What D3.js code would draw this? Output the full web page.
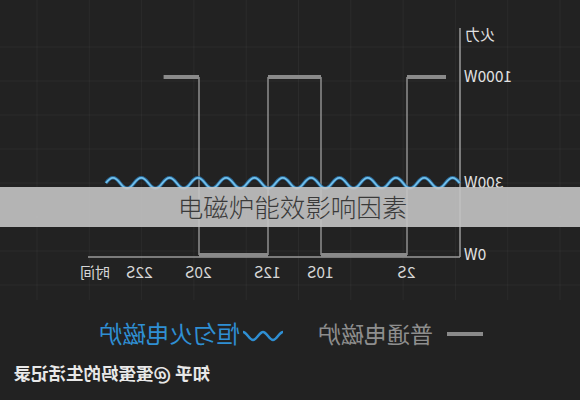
<!DOCTYPE html>
<html>
<head>
<meta charset="utf-8">
<script src="https://cdn.jsdelivr.net/npm/d3@7"></script>
<style>
  html, body { margin: 0; padding: 0; background: #222; }
  svg { display: block; font-family: "Noto Sans CJK SC", "Noto Sans", sans-serif; }
</style>
</head>
<body>
<svg id="chart" width="580" height="400"></svg>
<script>
// time ticks (seconds) and their labels
const timeTicks = [2, 10, 12, 20, 22];
const timeLabels = ['2S', '10S', '12S', '20S', '22S'];

// power ticks
const powerTicks = [0, 300, 1000];
const powerLabels = ['0W', '300W', '1000W'];

// normal induction cooker: on/off steps (segment i runs from times[i] to times[i+1])
const normalTimes = [0, 2, 10, 12, 20, 21.2];
const normalPower = [1000, 0, 1000, 0, 1000];

// constant-fire induction cooker: steady 300W
const steadyTimes = [-0.7, 23.2];
const steadyPower = [300, 300];

const seriesNames = ['普通电磁炉', '恒匀火电磁炉'];
const caption = '电磁炉能效影响因素';
const watermark = '知乎 @蛋蛋妈的生活记录';

const W = 580, H = 400;
const svg = d3.select('#chart');

svg.append('rect').attr('width', W).attr('height', H).attr('fill', '#222');

// the whole picture is mirrored left-right
const g = svg.append('g').attr('transform', `translate(${W},0) scale(-1,1)`);

// time axis is not evenly spaced in the picture
const x = d3.scaleLinear()
    .domain([0, 2, 10, 12, 20, 22])
    .range([134, 173, 259, 312, 381, 440]);

const y = d3.scaleLinear()
    .domain([0, 300, 1000])
    .range([255, 183, 77]);

const axisX0 = 120, axisY0 = 257;

// faint background grid
g.append('g').selectAll('line')
    .data(d3.range(20, W, 52.3))
    .join('line')
    .attr('x1', d => d).attr('x2', d => d)
    .attr('y1', 0).attr('y2', 300)
    .attr('stroke', 'rgba(255,255,255,0.045)');
g.append('g').selectAll('line')
    .data(d3.range(47, 300, 34))
    .join('line')
    .attr('x1', 0).attr('x2', W)
    .attr('y1', d => d).attr('y2', d => d)
    .attr('stroke', 'rgba(255,255,255,0.045)');

// axis lines
g.append('line')
    .attr('x1', axisX0).attr('x2', axisX0)
    .attr('y1', 28).attr('y2', axisY0)
    .attr('stroke', '#9a9a9a').attr('stroke-width', 1.5);
g.append('line')
    .attr('x1', axisX0).attr('x2', 492)
    .attr('y1', axisY0).attr('y2', axisY0)
    .attr('stroke', '#9a9a9a').attr('stroke-width', 1.5);

// tick labels
const xAxis = g.append('g')
    .attr('transform', `translate(0,${axisY0})`)
    .call(d3.axisBottom(x).tickValues(timeTicks).tickFormat((d, i) => timeLabels[i]).tickSize(0).tickPadding(10));
xAxis.select('.domain').remove();
xAxis.selectAll('text')
    .attr('fill', '#d6d6d6')
    .style('font-size', '15.5px')
    .style('font-family', '"Noto Sans CJK SC", sans-serif');

const yAxis = g.append('g')
    .attr('transform', `translate(${axisX0},0)`)
    .call(d3.axisLeft(y).tickValues(powerTicks).tickFormat((d, i) => powerLabels[i]).tickSize(0).tickPadding(4));
yAxis.select('.domain').remove();
yAxis.selectAll('text')
    .attr('fill', '#e2e2e2')
    .style('font-size', '15.5px')
    .style('font-family', '"Noto Sans CJK SC", sans-serif');

g.append('text')
    .attr('x', 115).attr('y', 35).attr('dy', '0.35em')
    .attr('text-anchor', 'end')
    .attr('fill', '#e2e2e2').style('font-size', '15px')
    .text('火力');
g.append('text')
    .attr('x', 485).attr('y', 273).attr('dy', '0.35em')
    .attr('text-anchor', 'middle')
    .attr('fill', '#d6d6d6').style('font-size', '15px')
    .text('时间');

// normal cooker: thick horizontal runs + thin vertical switches
const segments = normalPower.map((p, i) => ({ t0: normalTimes[i], t1: normalTimes[i + 1], p }));
g.append('g').selectAll('line')
    .data(segments.slice(1))
    .join('line')
    .attr('x1', d => x(d.t0)).attr('x2', d => x(d.t0))
    .attr('y1', y(1000)).attr('y2', y(0))
    .attr('stroke', '#a0a0a0').attr('stroke-width', 1.3);
g.append('g').selectAll('line')
    .data(segments)
    .join('line')
    .attr('x1', d => x(d.t0)).attr('x2', d => x(d.t1))
    .attr('y1', d => y(d.p)).attr('y2', d => y(d.p))
    .attr('stroke', '#8a8a8a').attr('stroke-width', 4);

// wavy stroke along a horizontal run (line style only)
function wavyPath(x0, x1, yc, period, amp, fromCrest) {
    const h = period / 2;
    const n = Math.round((x1 - x0) / h);
    let d;
    if (fromCrest) {
        d = `M${x0},${yc - amp}`;
        for (let i = 0; i < n; i++) {
            const s = i % 2 === 0 ? 1 : -1;
            d += `c${h * 0.36},0 ${h * 0.64},${2 * amp * s} ${h},${2 * amp * s}`;
        }
    } else {
        d = `M${x0},${yc}`;
        const k = amp * 4 / 3;
        for (let i = 0; i < n; i++) {
            const s = i % 2 === 0 ? -1 : 1;
            d += `c${h * 0.3642},${k * s} ${h * 0.6358},${k * s} ${h},0`;
        }
    }
    return d;
}

const steadyD = wavyPath(x(steadyTimes[0]), x(steadyTimes[1]), y(steadyPower[0]), 28.3, 5.2, false);
g.append('path').attr('d', steadyD)
    .attr('fill', 'none').attr('stroke', '#2c76ad').attr('stroke-width', 3.6).attr('opacity', 0.85);
g.append('path').attr('d', steadyD)
    .attr('fill', 'none').attr('stroke', '#72c1ec').attr('stroke-width', 1.8);

// legend
const legend = g.append('g');
legend.append('line')
    .attr('x1', 97).attr('x2', 133).attr('y1', 334).attr('y2', 334)
    .attr('stroke', '#8a8a8a').attr('stroke-width', 4);
legend.append('text')
    .attr('x', 147).attr('y', 343)
    .attr('fill', '#8e8e8e').style('font-size', '23px')
    .text(seriesNames[0]);
legend.append('path')
    .attr('d', wavyPath(297, 337, 336, 20, 4, true))
    .attr('fill', 'none').attr('stroke', '#2f8fd3').attr('stroke-width', 2.5);
legend.append('text')
    .attr('x', 340).attr('y', 343)
    .attr('fill', '#2f8fd3').style('font-size', '23.5px')
    .text(seriesNames[1]);

g.append('text')
    .attr('x', 370).attr('y', 380)
    .attr('fill', '#e8e8e8').style('font-size', '17.5px').style('font-weight', 'bold')
    .text(watermark);

// caption band laid over the chart (not mirrored)
svg.append('rect')
    .attr('x', 0).attr('y', 187).attr('width', W).attr('height', 40)
    .attr('fill', '#c4c4c4').attr('opacity', 0.9);
svg.append('text')
    .attr('x', 292.5).attr('y', 217)
    .attr('text-anchor', 'middle')
    .attr('fill', '#3a3a3a')
    .style('font-size', '25.5px').style('font-weight', 300)
    .text(caption);
</script>
</body>
</html>
